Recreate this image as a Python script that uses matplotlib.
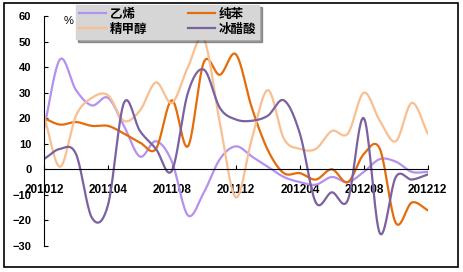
import numpy as np
import matplotlib.pyplot as plt

plt.rcParams['font.family'] = ['Liberation Sans', 'Noto Sans CJK SC', 'DejaVu Sans']

months = ['201012', '201101', '201102', '201103', '201104', '201105', '201106',
          '201107', '201108', '201109', '201110', '201111', '201112', '201201',
          '201202', '201203', '201204', '201205', '201206', '201207', '201208',
          '201209', '201210', '201211', '201212']

ethylene = [16, 43, 31, 25, 28, 17, 5, 11, 3, -18, -9, 4, 9, 5, 1, -3,
            -5, -6, -3, -5, -1, 4, 3, -1, -1]
benzene = [20, 17.5, 18.5, 17, 17, 14, 10.5, 8, 27, 9, 42, 37, 45, 24, 7.5,
           -1.5, -1.5, -4, 0, -5, 6, 8, -21, -13, -16]
methanol = [21, 1, 21, 28, 29, 19, 23, 34, 26, 40, 51, 18, -11, 12, 31, 12,
            8, 8, 15, 14, 30, 19, 11, 26, 14]
acetic = [4, 8, 6, -19, -14, 26, 15, 8, -0.5, 30, 39, 24, 19.5, 19, 21, 27,
          14, -13, -9, -12, 20, -25, -3, -4, -2]

names = ['乙烯', '纯苯', '精甲醇', '冰醋酸']
colors = ['#b591ef', '#e46c0a', '#f9bf91', '#7a62a0']


def smooth(y, n=20):
    # Catmull-Rom curve through monthly points, like Excel smoothed lines
    y = np.asarray(y, dtype=float)
    p = np.concatenate([[2 * y[0] - y[1]], y, [2 * y[-1] - y[-2]]])
    xs, ys = [], []
    t = np.linspace(0, 1, n, endpoint=False)
    for i in range(len(y) - 1):
        p0, p1, p2, p3 = p[i], p[i + 1], p[i + 2], p[i + 3]
        seg = 0.5 * (2 * p1 + (-p0 + p2) * t + (2 * p0 - 5 * p1 + 4 * p2 - p3) * t ** 2
                     + (-p0 + 3 * p1 - 3 * p2 + p3) * t ** 3)
        xs.append(i + t)
        ys.append(seg)
    xs.append([len(y) - 1])
    ys.append([y[-1]])
    return np.concatenate(xs), np.concatenate(ys)


fig = plt.figure(figsize=(4.63, 2.72), dpi=100)
ax = fig.add_axes([0.095, 0.0956, 0.829, 0.8456])

lines = {}
for data, name, c in zip([ethylene, benzene, methanol, acetic], names, colors):
    sx, sy = smooth(data)
    lines[name], = ax.plot(sx, sy, color=c, lw=1.6, label=name)

ax.set_xlim(0, 24)
ax.set_ylim(-30, 60)
ax.set_yticks(range(-30, 61, 10))
ax.set_xticks(range(0, 25, 4))
ax.set_xticklabels(months[::4])
ax.spines['top'].set_visible(False)
ax.spines['right'].set_visible(False)
ax.spines['bottom'].set_position(('data', 0))
ax.tick_params(axis='y', direction='in', length=3, pad=9, labelsize=8)
ax.tick_params(axis='x', direction='in', length=3, pad=10.5, labelsize=8.5)
for lab in ax.get_xticklabels() + ax.get_yticklabels():
    lab.set_fontweight('bold')
ax.text(0.05, 1.0, '%', transform=ax.transAxes, fontsize=8, va='top')

# legend rows: 乙烯 纯苯 / 精甲醇 冰醋酸
order = ['乙烯', '精甲醇', '纯苯', '冰醋酸']
leg = fig.legend([lines[k] for k in order], order, loc='upper left',
                 bbox_to_anchor=(0.158, 0.992), ncol=2,
                 frameon=True, fancybox=False, shadow=True, framealpha=1,
                 facecolor='#d6d6d6', edgecolor='#d6d6d6', handlelength=2.2,
                 handletextpad=0.3, columnspacing=3.2, labelspacing=0.15,
                 borderpad=0.25, borderaxespad=0.2,
                 prop={'family': ['Noto Sans CJK SC'], 'weight': 'bold', 'size': 9})

fig.patches.append(plt.Rectangle((0.009, 0.018), 0.981, 0.97, transform=fig.transFigure,
                                 fill=False, edgecolor='black', lw=1.2))

fig.savefig('out.png', dpi=100)
